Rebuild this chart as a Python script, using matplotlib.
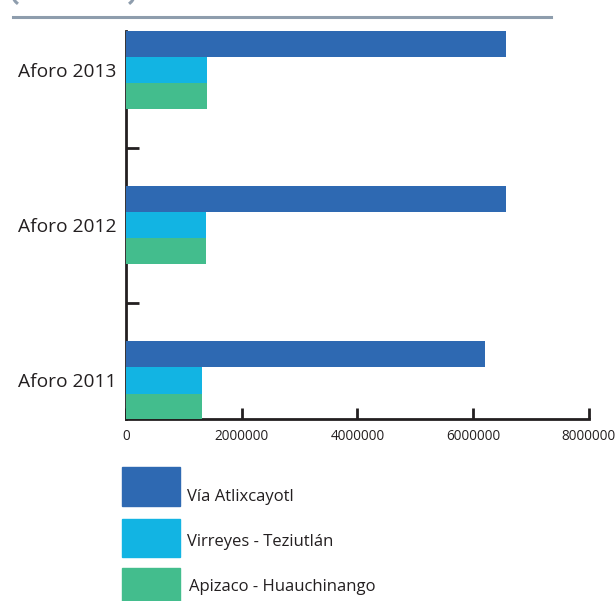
import numpy as np
import matplotlib.pyplot as plt
from matplotlib.patches import Rectangle
from matplotlib.lines import Line2D

# data
categories = ["Aforo 2011", "Aforo 2012", "Aforo 2013"]
series_names = ["Vía Atlixcayotl", "Virreyes - Teziutlán", "Apizaco - Huauchinango"]
via_atlixcayotl = [6200000, 6560000, 6560000]
virreyes_teziutlan = [1310000, 1380000, 1400000]
apizaco_huauchinango = [1310000, 1380000, 1400000]
colors = ["#2e69b2", "#12b4e3", "#43bd8d"]
x_ticks = [0, 2000000, 4000000, 6000000, 8000000]

plt.rcParams["font.family"] = ["Open Sans", "DejaVu Sans"]
text_color = "#231f20"
deco = "#8e9dad"

fig = plt.figure(figsize=(6.15, 6.01), dpi=100)
ax = fig.add_axes([0.2049, 0.3028, 0.7528, 0.6456])

h = 0.168
pos = list(range(len(categories)))
values = [via_atlixcayotl, virreyes_teziutlan, apizaco_huauchinango]
offsets = [h, 0, -h]
for vals, off, c in zip(values, offsets, colors):
    ax.barh([p + off for p in pos], vals, height=h, color=c, zorder=2)

ax.set_xlim(0, 8000000)
ax.set_ylim(-0.248, 2.25)

for s in ["top", "right"]:
    ax.spines[s].set_visible(False)
for s in ["left", "bottom"]:
    ax.spines[s].set_color("#231f20")
    ax.spines[s].set_linewidth(2)
    ax.spines[s].set_zorder(1)

ax.set_xticks(x_ticks)
ax.set_xticklabels([str(t) for t in x_ticks], fontsize=9.8, color=text_color)
ax.tick_params(axis="x", direction="in", length=8, width=2, pad=7, color="#231f20")
for lbl in ax.get_xticklabels():
    lbl.set_clip_on(False)

ax.set_yticks([0.5, 1.5])
ax.set_yticklabels([])
ax.tick_params(axis="y", which="major", direction="in", length=9, width=2, color="#231f20")
ax.set_yticks(pos, minor=True)
ax.set_yticklabels(categories, minor=True, fontsize=13.8, color=text_color)
ax.tick_params(axis="y", which="minor", length=0, pad=7)

# top decoration: separator line and the edge of a rounded box cut by the frame
fig.add_artist(Line2D([13 / 615, 551 / 615], [1 - 17 / 601, 1 - 17 / 601],
                      color=deco, lw=2.2))
t = np.linspace(0, 0.9, 12)
for cx, sgn in [(23, -1), (124, 1)]:
    xs = cx + sgn * 10 * np.cos(t)
    ys = -5 + 10 * np.sin(t)
    fig.add_artist(Line2D(xs / 615, 1 - ys / 601, color=deco, lw=2.2))

# legend
leg_boxes = [(467, 506), (519, 557), (568, 607)]
leg_text_y = [497, 542, 587]
leg_text_x = [187, 187, 189]
for (top, bot), ty, tx, c, name in zip(leg_boxes, leg_text_y, leg_text_x, colors, series_names):
    fig.add_artist(Rectangle((122 / 615, 1 - bot / 601), 58 / 615, (bot - top) / 601,
                             color=c, transform=fig.transFigure))
    fig.text(tx / 615, 1 - ty / 601, name, fontsize=12, color=text_color,
             va="center", ha="left")

fig.savefig("out.png", dpi=100)
